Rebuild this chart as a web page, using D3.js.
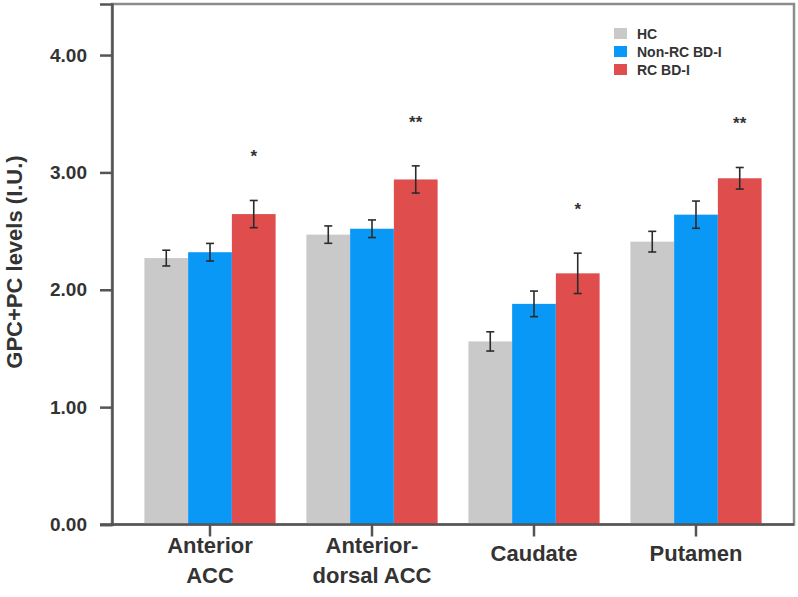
<!DOCTYPE html>
<html lang="en">
    <head>
        <meta charset="utf-8">
        <title>GPC+PC levels</title>
        <script type="text/javascript" src="https://cdn.jsdelivr.net/npm/d3@7/dist/d3.min.js"></script>
        <style>
            body { margin: 0; background: #fff; }
            text { font-family: "Liberation Sans", Arial, sans-serif; font-weight: bold; fill: #333; }
        </style>
    </head>

    <body>
        <script type="text/javascript">

            // regions and groups
            var regions = ["Anterior ACC", "Anterior-dorsal ACC", "Caudate", "Putamen"];
            var region_lines = [["Anterior", "ACC"], ["Anterior-", "dorsal ACC"], ["Caudate"], ["Putamen"]];
            var groups = ["HC", "Non-RC BD-I", "RC BD-I"];
            var group_colors = ["#c9c9c9", "#0a98f7", "#e04d4d"];

            // means and error bars
            var hc_mean = [2.27, 2.47, 1.56, 2.41];
            var hc_err = [0.067, 0.074, 0.082, 0.088];
            var nonrc_mean = [2.32, 2.52, 1.88, 2.64];
            var nonrc_err = [0.075, 0.075, 0.109, 0.116];
            var rc_mean = [2.645, 2.94, 2.14, 2.95];
            var rc_err = [0.116, 0.116, 0.172, 0.092];
            var signif = ["*", "**", "*", "**"];

            var y_ticks = [0, 1, 2, 3, 4];

            var width = 798, height = 597;
            // note: "top" clashes with window.top, so prefix everything
            var plot_left = 112, plot_right = 794, plot_top = 4, plot_bottom = 524.5;

            var means = [hc_mean, nonrc_mean, rc_mean];
            var errs = [hc_err, nonrc_err, rc_err];

            var svg = d3.select("body")
                .append("svg")
                .attr("width", width)
                .attr("height", height);

            var x = d3.scaleBand()
                .domain(regions)
                .range([plot_left, plot_right])
                .paddingInner(0.19)
                .paddingOuter(0.2);

            var x_group = d3.scaleBand()
                .domain(groups)
                .range([0, x.bandwidth()]);

            var y = d3.scaleLinear()
                .domain([0, 4.435])
                .range([plot_bottom, plot_top]);

            // frame
            svg.append("rect")
                .attr("x", plot_left)
                .attr("y", plot_top)
                .attr("width", plot_right - plot_left)
                .attr("height", plot_bottom - plot_top)
                .attr("fill", "none")
                .attr("stroke", "#8c8c8c")
                .attr("stroke-width", 2.5);

            // build a flat table for the bars
            var bars = [];
            regions.forEach(function(r, i) {
                groups.forEach(function(g, j) {
                    bars.push({region: r, group: g, gi: j, mean: means[j][i], err: errs[j][i]});
                });
            });

            svg.append("g")
                .selectAll("rect")
                .data(bars)
                .enter()
                .append("rect")
                .attr("x", function(d) { return x(d.region) + x_group(d.group); })
                .attr("y", function(d) { return y(d.mean); })
                .attr("width", x_group.bandwidth())
                .attr("height", function(d) { return y(0) - y(d.mean); })
                .attr("fill", function(d) { return group_colors[d.gi]; });

            // error bars
            var eb = svg.append("g")
                .attr("stroke", "#2b2b2b")
                .attr("stroke-width", 1.6)
                .selectAll("g")
                .data(bars)
                .enter()
                .append("g")
                .attr("transform", function(d) {
                    return "translate(" + (x(d.region) + x_group(d.group) + x_group.bandwidth() / 2) + ",0)";
                });
            eb.append("line")
                .attr("y1", function(d) { return y(d.mean - d.err); })
                .attr("y2", function(d) { return y(d.mean + d.err); });
            eb.append("line")
                .attr("x1", -4).attr("x2", 4)
                .attr("y1", function(d) { return y(d.mean + d.err); })
                .attr("y2", function(d) { return y(d.mean + d.err); });
            eb.append("line")
                .attr("x1", -4).attr("x2", 4)
                .attr("y1", function(d) { return y(d.mean - d.err); })
                .attr("y2", function(d) { return y(d.mean - d.err); });

            // significance stars over the RC BD-I bars
            svg.append("g")
                .selectAll("text")
                .data(signif)
                .enter()
                .append("text")
                .attr("x", function(d, i) { return x(regions[i]) + x_group("RC BD-I") + x_group.bandwidth() / 2; })
                .attr("y", function(d, i) { return y(rc_mean[i] + rc_err[i]) - 38; })
                .attr("text-anchor", "middle")
                .style("font-size", "17px")
                .text(function(d) { return d; });

            // y axis
            var y_axis = svg.append("g")
                .attr("transform", "translate(" + plot_left + ",0)")
                .call(d3.axisLeft(y).tickValues(y_ticks).tickFormat(d3.format(".2f")).tickSize(12).tickPadding(13));
            y_axis.selectAll("text").style("font-size", "19px").attr("fill", "#333");

            // x axis
            var x_axis = svg.append("g")
                .attr("transform", "translate(0," + plot_bottom + ")")
                .call(d3.axisBottom(x).tickSize(12).tickFormat(""));
            x_axis.select(".domain").attr("d", "M" + (plot_left - 12) + ",0H" + plot_right);

            [y_axis, x_axis].forEach(function(a) {
                a.select(".domain").attr("stroke", "#555").attr("stroke-width", 2.5);
                a.selectAll(".tick line").attr("stroke", "#555").attr("stroke-width", 2.5);
            });

            // category labels, one or two lines
            var labels = svg.append("g")
                .selectAll("text")
                .data(regions)
                .enter()
                .append("text")
                .attr("text-anchor", "middle")
                .attr("x", function(d) { return x(d) + x.bandwidth() / 2; })
                .attr("y", function(d, i) { return region_lines[i].length > 1 ? 553 : 561; })
                .style("font-size", "22px");
            labels.each(function(d, i) {
                var t = d3.select(this);
                region_lines[i].forEach(function(line, k) {
                    t.append("tspan")
                        .attr("x", x(d) + x.bandwidth() / 2)
                        .attr("dy", k === 0 ? 0 : 30)
                        .text(line);
                });
            });

            // y label
            svg.append("text")
                .attr("transform", "translate(22," + 262 + ") rotate(-90)")
                .attr("text-anchor", "middle")
                .style("font-size", "22px")
                .text("GPC+PC levels (I.U.)");

            // legend
            var legend = svg.append("g")
                .selectAll("g")
                .data(groups)
                .enter()
                .append("g")
                .attr("transform", function(d, i) { return "translate(614," + (28 + i * 18) + ")"; });
            legend.append("rect")
                .attr("width", 13)
                .attr("height", 11)
                .attr("fill", function(d, i) { return group_colors[i]; });
            legend.append("text")
                .attr("x", 23)
                .attr("y", 10.5)
                .style("font-size", "14px")
                .text(function(d) { return d; });
        </script>
    </body>
</html>
